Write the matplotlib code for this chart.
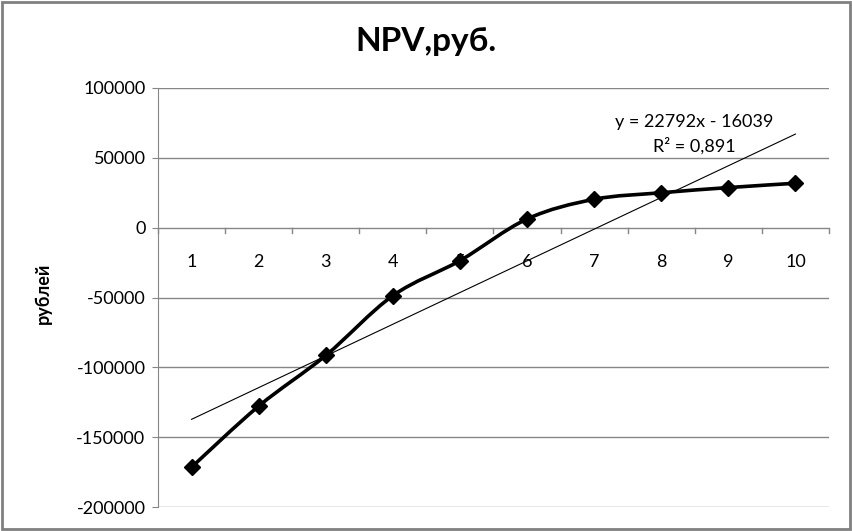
import numpy as np
import matplotlib
matplotlib.use("Agg")
import matplotlib.pyplot as plt
from matplotlib.path import Path
from matplotlib.patches import PathPatch, Rectangle

years = [1, 2, 3, 4, 5, 6, 7, 8, 9, 10]
npv = [-171500, -127800, -91500, -48700, -23600, 6200, 20300, 25000, 28700, 31800]
yticks = [-200000, -150000, -100000, -50000, 0, 50000, 100000]
title = "NPV,руб."
ylabel = "рублей"
eq_text = "y = 22792x - 16039"
r2_text = "R² = 0,891"

plt.rcParams['font.family'] = ['Lato', 'DejaVu Sans']

fig = plt.figure(figsize=(8.53, 5.31), dpi=100)
ax = fig.add_axes([158/853, 1-507/531, (829-158)/853, (507-88)/531])

grid_c = '#868686'
ax.set_xlim(0.5, 10.5)
ax.set_ylim(-200000, 100000)
ax.set_yticks(yticks)
ax.set_yticklabels([str(v) for v in yticks], fontsize=13)
for v in yticks:
    ax.axhline(v, color=grid_c, lw=1, zorder=1)
for s in ['top', 'right', 'bottom']:
    ax.spines[s].set_visible(False)
ax.spines['left'].set_color(grid_c)
ax.tick_params(axis='y', length=4, color=grid_c, pad=5)
ax.set_xticks([])

# category axis tick marks between categories, labels below the zero line
for b in np.arange(0.5, 10.6, 1.0):
    ax.plot([b, b], [0, -4000], color=grid_c, lw=1, zorder=2, clip_on=False)
for x in years:
    ax.text(x, -24500, str(x), ha='center', va='center', fontsize=13, zorder=2)

# linear trendline
k, b0 = np.polyfit(years, npv, 1)
xs = np.array([years[0], years[-1]])
ax.plot(xs, k*xs + b0, color='black', lw=0.8, zorder=3)

# smoothed line (Catmull-Rom -> Bezier)
x = np.array(years, float)
y = np.array(npv, float)
verts = [(x[0], y[0])]
codes = [Path.MOVETO]
t = 1/6
for i in range(len(x)-1):
    p0 = (x[i-1], y[i-1]) if i > 0 else (x[i], y[i])
    p1 = (x[i], y[i])
    p2 = (x[i+1], y[i+1])
    p3 = (x[i+2], y[i+2]) if i+2 < len(x) else (x[i+1], y[i+1])
    c1 = (p1[0] + (p2[0]-p0[0])*t, p1[1] + (p2[1]-p0[1])*t)
    c2 = (p2[0] - (p3[0]-p1[0])*t, p2[1] - (p3[1]-p1[1])*t)
    verts += [c1, c2, p2]
    codes += [Path.CURVE4]*3
ax.add_patch(PathPatch(Path(verts, codes), fc='none', ec='black', lw=2.6, zorder=4))
ax.plot(years, npv, ls='none', marker='D', ms=8, color='black', zorder=5)

fig.text(694/853, 1-122/531, eq_text, ha='center', va='center', fontsize=13)
fig.text(694/853, 1-146/531, r2_text, ha='center', va='center', fontsize=13)

fig.text(426/853, 1-42/531, title, ha='center', va='center', fontsize=24, fontweight='bold')
fig.text(43/853, 1-293/531, ylabel, ha='center', va='center', rotation=90, fontsize=13, fontweight='bold')

fig.patches.append(Rectangle((0.002, 0.003), 0.995, 0.994, transform=fig.transFigure,
                             fill=False, ec='#808080', lw=2))

fig.savefig('out.png', dpi=100)
